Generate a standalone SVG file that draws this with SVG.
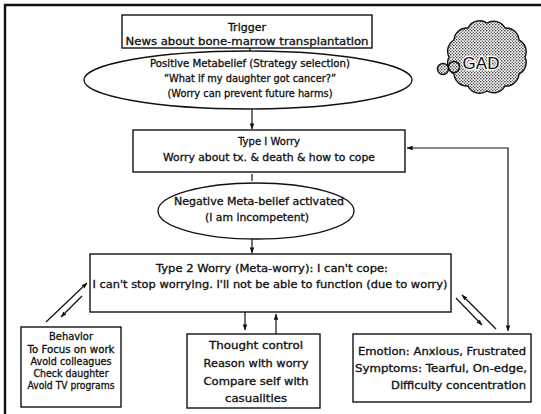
<svg xmlns="http://www.w3.org/2000/svg" width="541" height="414" viewBox="0 0 541 414">
  <defs>
    <marker id="arrow" viewBox="0 0 8 8" refX="7.5" refY="4" markerWidth="6" markerHeight="6" orient="auto-start-reverse" markerUnits="userSpaceOnUse">
      <path d="M0,1 L8,4 L0,7 Z" fill="#111"/>
    </marker>
    <pattern id="stipple" width="3" height="3" patternUnits="userSpaceOnUse">
      <rect width="3" height="3" fill="#fff"/>
      <circle cx="0.8" cy="0.8" r="0.8" fill="#222"/>
      <circle cx="2.3" cy="2.3" r="0.7" fill="#444"/>
    </pattern>
  </defs>
  <style>
    .box { fill: #fff; stroke: #111; stroke-width: 1.4; }
    .oval { fill: #fff; stroke: #111; stroke-width: 1.3; }
    .t { font-family: "DejaVu Sans", "Liberation Sans", sans-serif; font-size: 10px; fill: #111; stroke: #111; stroke-width: 0.3; text-anchor: middle; }
    .r { text-anchor: end; }
    .link { fill: none; stroke: #111; stroke-width: 1.2; }
    .arr { marker-end: url(#arrow); }
    .cloud { fill: url(#stipple); stroke: #111; stroke-width: 1.4; }
  </style>

  <rect width="541" height="414" fill="#fff"/>
  <!-- outer frame -->
  <path d="M5,414 L5,5 L541,5" fill="none" stroke="#111" stroke-width="2.4"/>

  <!-- GAD cloud -->
  <g id="gad">
    <path class="cloud" d="M525,57 A13,13 0 0 1 519,74 A13,13 0 0 1 505,86 A13,13 0 0 1 487,91 A13,13 0 0 1 468,86 A13,13 0 0 1 454,74 A13,13 0 0 1 449,57 A13,13 0 0 1 454,40 A13,13 0 0 1 468,28 A13,13 0 0 1 487,23 A13,13 0 0 1 505,28 A13,13 0 0 1 519,40 A13,13 0 0 1 525,57 Z"/>
    <circle class="cloud" cx="443" cy="69" r="5.5"/>
    <circle class="cloud" cx="454" cy="67" r="5.5"/>
    <text x="481" y="69" style="font-family:'Liberation Sans',Arial,sans-serif;font-size:17px;fill:#111;text-anchor:middle;stroke:#fff;stroke-width:2.5;paint-order:stroke;">GAD</text>
  </g>

  <g id="connectors">
    <line class="link" x1="250" y1="48" x2="250" y2="52"/>
    <line class="link arr" x1="252" y1="109" x2="252" y2="129"/>
    <line class="link" x1="252" y1="174" x2="252" y2="181"/>
    <line class="link arr" x1="252" y1="239" x2="252" y2="253"/>
    <!-- Type 2 <-> Behavior -->
    <line class="link arr" x1="46" y1="322" x2="87" y2="283"/>
    <line class="link arr" x1="82" y1="296" x2="61" y2="317"/>
    <!-- Type 2 <-> Thought control -->
    <line class="link arr" x1="245" y1="312" x2="245" y2="330"/>
    <line class="link arr" x1="276" y1="334" x2="276" y2="314"/>
    <!-- Type 2 <-> Emotion -->
    <line class="link arr" x1="456" y1="298" x2="482" y2="325"/>
    <line class="link arr" x1="496" y1="329" x2="462" y2="295"/>
    <!-- feedback loop between Emotion and Type I -->
    <path class="link" d="M508,331 L508,148 L407,148" marker-start="url(#arrow)" marker-end="url(#arrow)" stroke-width="1"/>
  </g>

  <g id="trigger">
    <rect class="box" x="122" y="15" width="250" height="33"/>
    <text class="t" x="247" y="31" textLength="38" lengthAdjust="spacingAndGlyphs">Trigger</text>
    <text class="t" x="247" y="45" textLength="243" lengthAdjust="spacingAndGlyphs">News about bone-marrow transplantation</text>
  </g>

  <g id="positive-metabelief">
    <ellipse class="oval" cx="248" cy="80" rx="164" ry="29"/>
    <text class="t" x="250" y="67" textLength="200" lengthAdjust="spacingAndGlyphs">Positive Metabelief (Strategy selection)</text>
    <text class="t" x="250" y="82" textLength="172" lengthAdjust="spacingAndGlyphs">“What if my daughter got cancer?”</text>
    <text class="t" x="250" y="97" textLength="165" lengthAdjust="spacingAndGlyphs">(Worry can prevent future harms)</text>
  </g>

  <g id="type1">
    <rect class="box" x="133" y="130" width="272" height="42"/>
    <text class="t" x="269" y="145" textLength="62" lengthAdjust="spacingAndGlyphs">Type I Worry</text>
    <text class="t" x="269" y="161" textLength="212" lengthAdjust="spacingAndGlyphs">Worry about tx. &amp; death &amp; how to cope</text>
  </g>

  <g id="negative-metabelief">
    <ellipse class="oval" cx="256" cy="211" rx="98" ry="28"/>
    <text class="t" x="259" y="205" textLength="170" lengthAdjust="spacingAndGlyphs">Negative Meta-belief activated</text>
    <text class="t" x="257" y="221" textLength="104" lengthAdjust="spacingAndGlyphs">(I am incompetent)</text>
  </g>

  <g id="type2">
    <rect class="box" x="90" y="254" width="361" height="58"/>
    <text class="t" x="272" y="272" textLength="232" lengthAdjust="spacingAndGlyphs">Type 2 Worry (Meta-worry): I can't cope:</text>
    <text class="t" x="270" y="288" textLength="355" lengthAdjust="spacingAndGlyphs">I can't stop worrying. I'll not be able to function (due to worry)</text>
  </g>

  <g id="behavior">
    <rect class="box" x="21" y="327" width="100" height="80"/>
    <text class="t" x="71" y="340" textLength="44" lengthAdjust="spacingAndGlyphs">Behavior</text>
    <text class="t" x="71" y="353" textLength="87" lengthAdjust="spacingAndGlyphs">To Focus on work</text>
    <text class="t" x="71" y="365" textLength="81" lengthAdjust="spacingAndGlyphs">Avoid colleagues</text>
    <text class="t" x="71" y="377" textLength="75" lengthAdjust="spacingAndGlyphs">Check daughter</text>
    <text class="t" x="71" y="389" textLength="87" lengthAdjust="spacingAndGlyphs">Avoid TV programs</text>
  </g>

  <g id="thought-control">
    <rect class="box" x="187" y="334" width="133" height="74"/>
    <text class="t" x="256" y="349" textLength="94" lengthAdjust="spacingAndGlyphs">Thought control</text>
    <text class="t" x="256" y="367" textLength="105" lengthAdjust="spacingAndGlyphs">Reason with worry</text>
    <text class="t" x="256" y="385" textLength="105" lengthAdjust="spacingAndGlyphs">Compare self with</text>
    <text class="t" x="256" y="402" textLength="62" lengthAdjust="spacingAndGlyphs">casualities</text>
  </g>

  <g id="emotion">
    <rect class="box" x="353" y="334" width="178" height="68"/>
    <text class="t r" x="526" y="355" textLength="168" lengthAdjust="spacingAndGlyphs">Emotion:  Anxious, Frustrated</text>
    <text class="t r" x="527" y="372" textLength="172" lengthAdjust="spacingAndGlyphs">Symptoms: Tearful, On-edge,</text>
    <text class="t r" x="526" y="389" textLength="135" lengthAdjust="spacingAndGlyphs">Difficulty concentration</text>
  </g>
</svg>
